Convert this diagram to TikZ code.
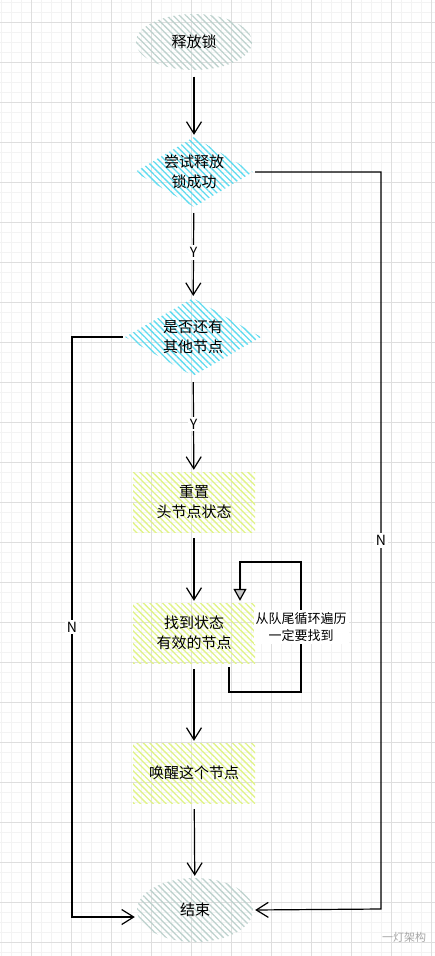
\documentclass[tikz,border=0pt]{standalone}
\usepackage{fontspec}
\setmainfont{Noto Sans CJK SC}
\usetikzlibrary{positioning,shapes.geometric,arrows.meta,patterns.meta}
\definecolor{termgray}{RGB}{190,210,206}
\definecolor{decicyan}{RGB}{95,220,240}
\definecolor{stepyellow}{RGB}{225,244,135}
\definecolor{gridminor}{RGB}{243,243,243}
\definecolor{gridmajor}{RGB}{222,222,222}

\begin{document}
\begin{tikzpicture}[x=1pt,y=-1pt]
        \tikzstyle{every node}=[font=\fontsize{15pt}{20pt}\selectfont, align=center]
        \tikzstyle{hatch}=[pattern={Lines[angle=-45,distance=4.5pt,line width=1.3pt]}]
        \tikzstyle{term}=[hatch, ellipse, pattern color=termgray, minimum width=116pt, minimum height=56pt]
        \tikzstyle{decide}=[hatch, diamond, pattern color=decicyan, inner sep=0pt, aspect=1.7]
        \tikzstyle{stepbox}=[hatch, rectangle, pattern color=stepyellow, minimum width=122pt, minimum height=60pt]
        \tikzstyle{arr}=[line width=1.2pt, -{Straight Barb[length=12pt,width=15pt]}, shorten >=2pt, shorten <=6pt]
        \tikzstyle{lbl}=[fill=white, font=\fontsize{14pt}{17pt}\selectfont, inner sep=2pt]

        \useasboundingbox (0,0) rectangle (435,956);
        \fill[white] (0,0) rectangle (435,956);
        \foreach \x in {1.7,11.7,...,435} \draw[gridminor, line width=0.8pt] (\x,0) -- (\x,956);
        \foreach \y in {2.7,12.7,...,956} \draw[gridminor, line width=0.8pt] (0,\y) -- (435,\y);
        \foreach \x in {31.7,71.7,...,435} \draw[gridmajor, line width=0.8pt] (\x,0) -- (\x,956);
        \foreach \y in {22.7,62.7,...,956} \draw[gridmajor, line width=0.8pt] (0,\y) -- (435,\y);

        \node (start) [term] at (194,42) {释放锁};
        \node (d1)    [decide, minimum width=118pt, minimum height=70pt] at (194,172) {尝试释放\\锁成功};
        \node (d2)    [decide, minimum width=136pt, minimum height=78pt] at (193,337) {是否还有\\其他节点};
        \node (r1)    [stepbox] at (194,502) {重置\\头节点状态};
        \node (r2)    [stepbox] at (194,633) {找到状态\\有效的节点};
        \node (r3)    [stepbox] at (194,773) {唤醒这个节点};
        \node (end)   [term, minimum height=64pt] at (195,910) {结束};
        \node (mark)  [text=gray!70, font=\fontsize{11pt}{13pt}\selectfont] at (404,937) {一灯架构};

        \coordinate (rgt) at (381,909);
        \coordinate (lft) at (72,917);
        \coordinate (lb)  at (301,692);
        \coordinate (lt)  at (301,562);

        \draw[arr] (start) -- (d1);
        \draw[arr] (d1) -- node[lbl] {Y} (d2);
        \draw[arr] (d2) -- node[lbl] {Y} (r1);
        \draw[arr] (r1) -- (r2);
        \draw[arr] (r2) -- (r3);
        \draw[arr] (r3) -- (end);
        \draw[arr, shorten <=2pt] (d1.east) -| node[lbl, pos=0.75] {N} (rgt) -- (end.east);
        \draw[arr, shorten <=2pt] (d2.west) -| node[lbl, pos=0.75] {N} (lft) -- (lft -| end.west);
        \draw[line width=1.2pt, -{Triangle[length=12pt,width=13pt,fill=gray!45]}, shorten <=4pt, shorten >=2pt]
            ([xshift=35pt]r2.south) |- (lb) -- node[lbl, font=\fontsize{13pt}{17pt}\selectfont] {从队尾循环遍历\\一定要找到} (lt) -| ([xshift=46pt]r2.north);
\end{tikzpicture}
\end{document}
